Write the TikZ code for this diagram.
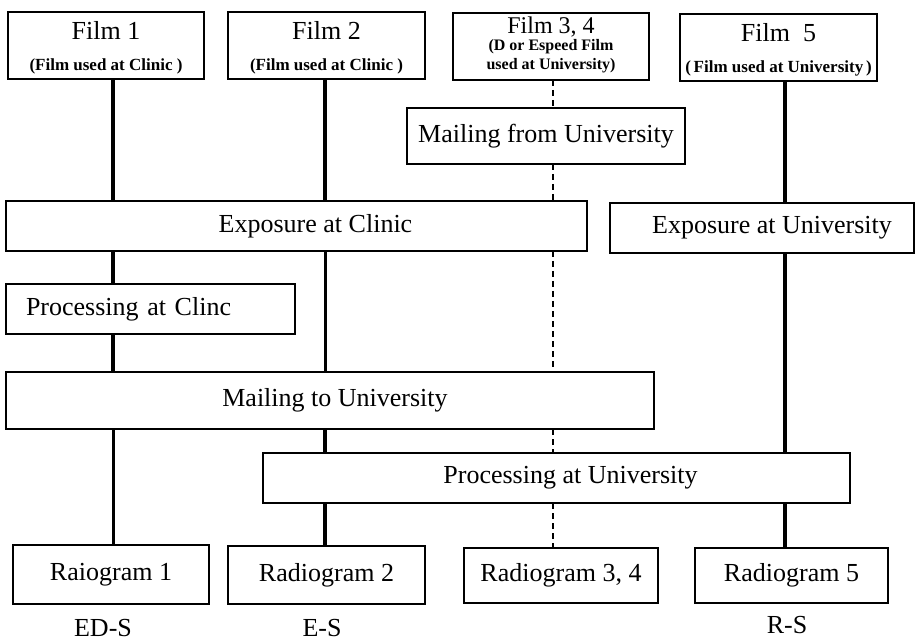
\documentclass[tikz,border=0pt]{standalone}
\usepackage{fontspec}
\setmainfont{Liberation Serif}
\newcommand\mainf{\fontsize{26}{30}\selectfont}
\newcommand\subf{\fontsize{17}{19}\selectfont\bfseries}
\newcommand\subg{\fontsize{16}{18}\selectfont\bfseries}
\newcommand\topstrut{\rule{0pt}{23pt}}
\begin{document}
\begin{tikzpicture}[x=1pt,y=-1pt,
  box/.style 2 args={draw, line width=2.2pt, inner sep=0pt, outer sep=0pt,
    anchor=north west, minimum width=#1pt, minimum height=#2pt,
    align=center, font=\mainf},
  link/.style={line width=4.2pt},
  thinlink/.style={line width=3pt},
  dashlink/.style={line width=2pt, dash pattern=on 6pt off 4pt},
  tag/.style={inner sep=0pt, font=\mainf}]
\useasboundingbox (0,0) rectangle (918,644);
% columns
\coordinate (c1) at (113,0);
\coordinate (c2) at (325,0);
\coordinate (c3) at (553,0);
\coordinate (c4) at (785,0);
% boxes
\node[box={196}{67}] (f1) at (8,12) {\topstrut Film 1\\[1pt]{\subf (Film used at Clinic\ )}};
\node[box={197}{67}] (f2) at (228,12) {\topstrut Film 2\\[1pt]{\subf (Film used at Clinic\ )}};
\node[box={196}{67}, font=\fontsize{24}{24}\selectfont] (f34) at (453,13)
  {Film 3, 4\\[-7pt]{\subg (D or Espeed Film}\\[-5pt]{\subg used at University)\rule[-6pt]{0pt}{6pt}}};
\node[box={197}{67}] (f5) at (680,14) {\topstrut Film\ \ 5\\[1pt]{\subf (\,Film used at University\,)}};
\node[box={278}{56}] (mfu) at (407,108) {Mailing from University};
\node[box={581}{50}] (expc) at (6,201) {\hspace*{38pt}Exposure at Clinic};
\node[box={304}{50}] (expu) at (610,203) {\hspace*{20pt}Exposure at University};
\node[box={289}{50}, inner xsep=20pt, text width=249pt, align=left] (procc) at (6,284) {Processing at Clinc};
\node[box={648}{57}] (mtu) at (6,372) {\hspace*{10pt}Mailing to University};
\node[box={587}{50}] (procu) at (263,453) {\hspace*{28pt}Processing at University};
\node[box={196}{59}] (r1) at (13,545) {Raiogram 1};
\node[box={197}{58}] (r2) at (228,546) {Radiogram 2};
\node[box={194}{55}] (r34) at (464,548) {Radiogram 3, 4};
\node[box={193}{55}] (r5) at (695,548) {Radiogram 5};
\node[tag] (l1) at (103,628) {ED-S};
\node[tag] (l2) at (322,628) {E-S};
\node[tag] (l5) at (787,625) {R-S};
% column 1
\draw[link] (f1.south -| c1) -- (expc.north -| c1);
\draw[link] (expc.south -| c1) -- (procc.north -| c1);
\draw[link] (procc.south -| c1) -- (mtu.north -| c1);
\draw[thinlink] (mtu.south -| c1) -- (r1.north -| c1);
% column 2
\draw[link] (f2.south -| c2) -- (expc.north -| c2);
\draw[thinlink] (expc.south -| c2) -- (mtu.north -| c2);
\draw[link] (mtu.south -| c2) -- (procu.north -| c2);
\draw[link] (procu.south -| c2) -- (r2.north -| c2);
% column 3 (dashed)
\draw[dashlink] (f34.south -| c3) -- (mfu.north -| c3);
\draw[dashlink] (mfu.south -| c3) -- (expc.north -| c3);
\draw[dashlink] (expc.south -| c3) -- (mtu.north -| c3);
\draw[dashlink] (mtu.south -| c3) -- (procu.north -| c3);
\draw[dashlink] (procu.south -| c3) -- (r34.north -| c3);
% column 4
\draw[link] (f5.south -| c4) -- (expu.north -| c4);
\draw[link] (expu.south -| c4) -- (procu.north -| c4);
\draw[link] (procu.south -| c4) -- (r5.north -| c4);
\end{tikzpicture}
\end{document}
